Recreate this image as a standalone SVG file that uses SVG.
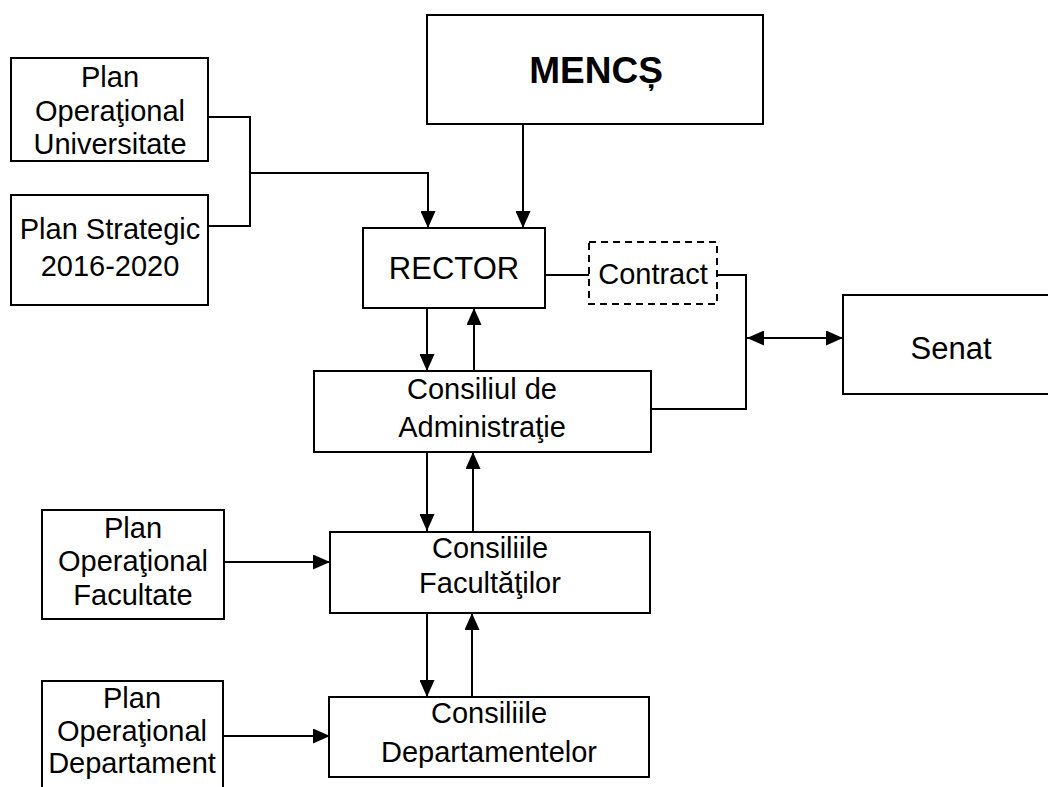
<svg xmlns="http://www.w3.org/2000/svg" width="1048" height="787" viewBox="0 0 1048 787">
<defs>
<marker id="ah" viewBox="0 0 17 15" refX="17" refY="7.5" markerWidth="17" markerHeight="15" markerUnits="userSpaceOnUse" orient="auto-start-reverse">
<path d="M0,0 L17,7.5 L0,15 Z" fill="#000"/>
</marker>
<style>
.box{fill:#fff;stroke:#000;stroke-width:2}
.dash{fill:#fff;stroke:#000;stroke-width:2;stroke-dasharray:7 5}
.t{font-family:"Liberation Sans",Arial,sans-serif;font-size:29px;fill:#000;text-anchor:middle}
.big{font-size:31px}
.bold{font-family:"Liberation Sans",Arial,sans-serif;font-size:37px;font-weight:bold;fill:#000;text-anchor:middle}
.c{fill:none;stroke:#000;stroke-width:2}
.a{fill:none;stroke:#000;stroke-width:2;marker-end:url(#ah)}
.ab{fill:none;stroke:#000;stroke-width:2;marker-end:url(#ah);marker-start:url(#ah)}
</style>
</defs>
<rect width="1048" height="787" fill="#fff"/>
<g id="connectors">
<path class="c" d="M208,117 H250 V226 H208"/>
<path class="a" d="M250,173 H428 V228"/>
<path class="a" d="M523,124 V228"/>
<path class="c" d="M545,275 H589"/>
<path class="c" d="M717,275 H746 V409 H651"/>
<path class="ab" d="M747,338 H843"/>
<path class="a" d="M427,308 V371"/>
<path class="a" d="M474,371 V308"/>
<path class="a" d="M427,452 V531"/>
<path class="a" d="M473,531 V452"/>
<path class="a" d="M427,613 V697"/>
<path class="a" d="M472,697 V613"/>
<path class="a" d="M224,562 H330"/>
<path class="a" d="M224,736 H330"/>
</g>
<g id="plan-univ">
<rect class="box" x="11" y="58" width="197" height="103"/>
<text class="t" x="110" y="87">Plan</text>
<text class="t" x="110" y="121">Operaţional</text>
<text class="t" x="110" y="154">Universitate</text>
</g>
<g id="plan-strategic">
<rect class="box" x="11" y="195" width="197" height="110"/>
<text class="t" x="110" y="239">Plan Strategic</text>
<text class="t" x="110" y="276">2016-2020</text>
</g>
<g id="mencs">
<rect class="box" x="427" y="15" width="336" height="109"/>
<text class="bold" x="596" y="83">MENCȘ</text>
</g>
<g id="rector">
<rect class="box" x="363" y="228" width="182" height="80"/>
<text class="t big" x="454" y="279">RECTOR</text>
</g>
<g id="contract">
<rect class="dash" x="589" y="242" width="128" height="62"/>
<text class="t" x="653" y="284">Contract</text>
</g>
<g id="senat">
<rect class="box" x="843" y="295" width="220" height="99"/>
<text class="t big" x="951" y="359">Senat</text>
</g>
<g id="consiliul-admin">
<rect class="box" x="314" y="371" width="337" height="81"/>
<text class="t" x="482" y="399">Consiliul de</text>
<text class="t" x="482" y="437">Administraţie</text>
</g>
<g id="plan-facultate">
<rect class="box" x="42" y="510" width="182" height="109"/>
<text class="t" x="133" y="538">Plan</text>
<text class="t" x="133" y="571">Operaţional</text>
<text class="t" x="133" y="605">Facultate</text>
</g>
<g id="consiliile-facultatilor">
<rect class="box" x="330" y="532" width="320" height="81"/>
<text class="t" x="490" y="558">Consiliile</text>
<text class="t" x="490" y="593">Facultăţilor</text>
</g>
<g id="plan-departament">
<rect class="box" x="42" y="681" width="181" height="130"/>
<text class="t" x="132" y="708">Plan</text>
<text class="t" x="132" y="741">Operaţional</text>
<text class="t" x="132" y="773">Departament</text>
</g>
<g id="consiliile-departamentelor">
<rect class="box" x="329" y="697" width="320" height="80"/>
<text class="t" x="489" y="723">Consiliile</text>
<text class="t" x="489" y="762">Departamentelor</text>
</g>
</svg>
